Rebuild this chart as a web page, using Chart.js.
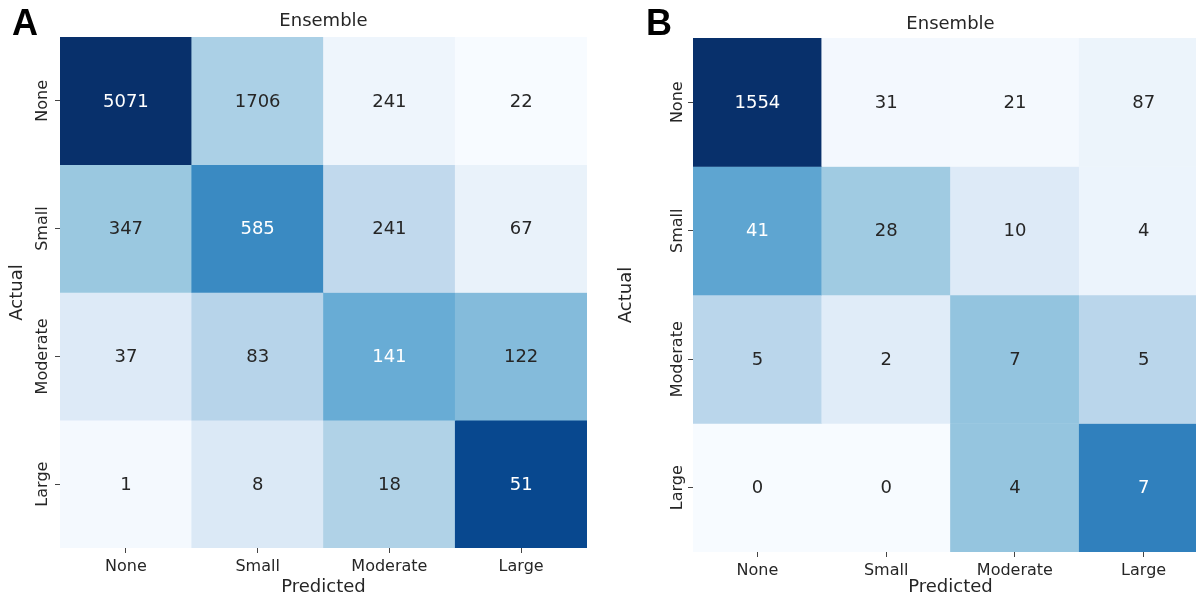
<!DOCTYPE html>
<html>
<head>
<meta charset="utf-8">
<title>Ensemble confusion matrices</title>
<script src="https://cdn.jsdelivr.net/npm/chart.js@4.4.1/dist/chart.umd.min.js"></script>
<style>
  html, body { margin: 0; padding: 0; background: #fff; overflow: hidden; }
  body { width: 1196px; height: 598px; position: relative; }
  .panel { position: absolute; top: 0; height: 598px; }
  #wrapA { left: 0; width: 600px; }
  #wrapB { left: 600px; width: 608px; }
  .letter {
    position: absolute;
    font-family: "Liberation Sans", Arial, sans-serif;
    font-weight: bold;
    font-size: 36px;
    line-height: 36px;
    color: #000;
  }
</style>
</head>
<body>
<div class="panel" id="wrapA"><canvas id="chartA"></canvas></div>
<div class="panel" id="wrapB"><canvas id="chartB"></canvas></div>
<div class="letter" style="left:12px;top:5px">A</div>
<div class="letter" style="left:646px;top:5px">B</div>
<script>
/* ================= DATA ================= */

const predictedLabels = ["None", "Small", "Moderate", "Large"];
const actualLabels = ["None", "Small", "Moderate", "Large"];

// panel A, one array per actual class
const aNone = [5071, 1706, 241, 22];
const aSmall = [347, 585, 241, 67];
const aModerate = [37, 83, 141, 122];
const aLarge = [1, 8, 18, 51];

// panel B
const bNone = [1554, 31, 21, 87];
const bSmall = [41, 28, 10, 4];
const bModerate = [5, 2, 7, 5];
const bLarge = [0, 0, 4, 7];

/* ================= COLOURS ================= */

// matplotlib "Blues"
const BLUES = [
  [247, 251, 255], [222, 235, 247], [198, 219, 239], [158, 202, 225],
  [107, 174, 214], [66, 146, 198], [33, 113, 181], [8, 81, 156], [8, 48, 107]
];

function blues(t) {
  t = Math.max(0, Math.min(1, t));
  const p = t * 8;
  const i = Math.min(7, Math.floor(p));
  const f = p - i;
  return BLUES[i].map((v, k) => Math.round(v + (BLUES[i + 1][k] - v) * f));
}

function luminance(rgb) {
  const c = rgb.map(v => {
    v /= 255;
    return v <= 0.03928 ? v / 12.92 : Math.pow((v + 0.055) / 1.055, 2.4);
  });
  return 0.2126 * c[0] + 0.7152 * c[1] + 0.0722 * c[2];
}

Chart.defaults.font.family = "'DejaVu Sans', sans-serif";
Chart.defaults.color = "#262626";

/* ================= PLUGINS ================= */

const cellText = {
  id: "cellText",
  afterDatasetsDraw(chart) {
    const ctx = chart.ctx;
    ctx.save();
    ctx.font = "18px 'DejaVu Sans'";
    ctx.textAlign = "center";
    ctx.textBaseline = "middle";
    chart.data.datasets.forEach((ds, i) => {
      chart.getDatasetMeta(i).data.forEach((bar, j) => {
        const p = bar.getCenterPoint();
        ctx.fillStyle = ds.textColors[j];
        ctx.fillText(String(ds.counts[j]), p.x, p.y + 1);
      });
    });
    ctx.restore();
  }
};

const rowLabels = {
  id: "rowLabels",
  afterDraw(chart, args, opts) {
    const ctx = chart.ctx;
    const y = chart.scales.y;
    ctx.save();
    ctx.font = "16px 'DejaVu Sans'";
    ctx.fillStyle = "#262626";
    ctx.textAlign = "center";
    ctx.textBaseline = "middle";
    actualLabels.forEach((lab, i) => {
      ctx.save();
      ctx.translate(opts.x, y.getPixelForValue(i + 0.5));
      ctx.rotate(-Math.PI / 2);
      ctx.fillText(lab, 0, 0);
      ctx.restore();
    });
    ctx.restore();
  }
};

/* ================= CHART ================= */

function makeMatrix(id, rows, lay) {
  const norm = rows.map(r => {
    const s = r.reduce((a, b) => a + b, 0);
    return r.map(v => v / s);
  });
  const flat = norm.flat();
  const lo = Math.min(...flat);
  const hi = Math.max(...flat);

  const datasets = rows.map((r, i) => {
    const cols = norm[i].map(v => blues((v - lo) / (hi - lo)));
    return {
      label: actualLabels[i],
      data: r.map(() => [i, i + 1]),
      counts: r,
      backgroundColor: cols.map(c => "rgb(" + c.join(",") + ")"),
      textColors: cols.map(c => (luminance(c) > 0.408 ? "#262626" : "#ffffff")),
      borderWidth: 0,
      grouped: false,
      barPercentage: 1,
      categoryPercentage: 1
    };
  });

  return new Chart(document.getElementById(id), {
    type: "bar",
    data: { labels: predictedLabels, datasets },
    options: {
      responsive: true,
      maintainAspectRatio: false,
      animation: false,
      layout: { padding: { left: 0, right: lay.padRight, top: 0, bottom: 0 } },
      plugins: {
        legend: { display: false },
        tooltip: { enabled: false },
        rowLabels: { x: lay.rowLabelX }
      },
      scales: {
        x: {
          type: "category",
          position: "bottom",
          offset: true,
          grid: { offset: false, drawOnChartArea: false, tickLength: 5, color: "#444", lineWidth: 1 },
          border: { display: false },
          ticks: { font: { size: 16 }, padding: 4, maxRotation: 0, color: "#262626" },
          title: {
            display: true, text: "Predicted", color: "#262626",
            font: { size: 18 }, padding: { top: 0, bottom: 0 }
          },
          afterFit: s => { s.height = lay.bottomH; }
        },
        top: {
          type: "category",
          position: "top",
          labels: predictedLabels,
          grid: { display: false },
          border: { display: false },
          ticks: { display: false },
          title: {
            display: true, text: "Ensemble", color: "#262626",
            font: { size: 18 }, padding: { top: lay.titlePad, bottom: 0 }
          },
          afterFit: s => { s.height = lay.topH; }
        },
        y: {
          type: "linear",
          position: "left",
          min: 0,
          max: 4,
          reverse: true,
          afterBuildTicks: s => { s.ticks = [0.5, 1.5, 2.5, 3.5].map(v => ({ value: v })); },
          grid: { drawOnChartArea: false, tickLength: 5, color: "#444", lineWidth: 1 },
          border: { display: false },
          ticks: { display: false },
          title: {
            display: true, text: "Actual", color: "#262626",
            font: { size: 18 }, padding: { top: lay.actualPad, bottom: 0 }
          },
          afterFit: s => { s.width = lay.leftW; }
        }
      }
    },
    plugins: [cellText, rowLabels]
  });
}

/* ================= INITIAL LOAD ================= */

makeMatrix("chartA", [aNone, aSmall, aModerate, aLarge], {
  padRight: 13, bottomH: 50, topH: 37, titlePad: 11, leftW: 60, actualPad: 7, rowLabelX: 43
});

makeMatrix("chartB", [bNone, bSmall, bModerate, bLarge], {
  padRight: 0, bottomH: 46, topH: 38, titlePad: 14, leftW: 93, actualPad: 16, rowLabelX: 78
});
</script>
</body>
</html>
